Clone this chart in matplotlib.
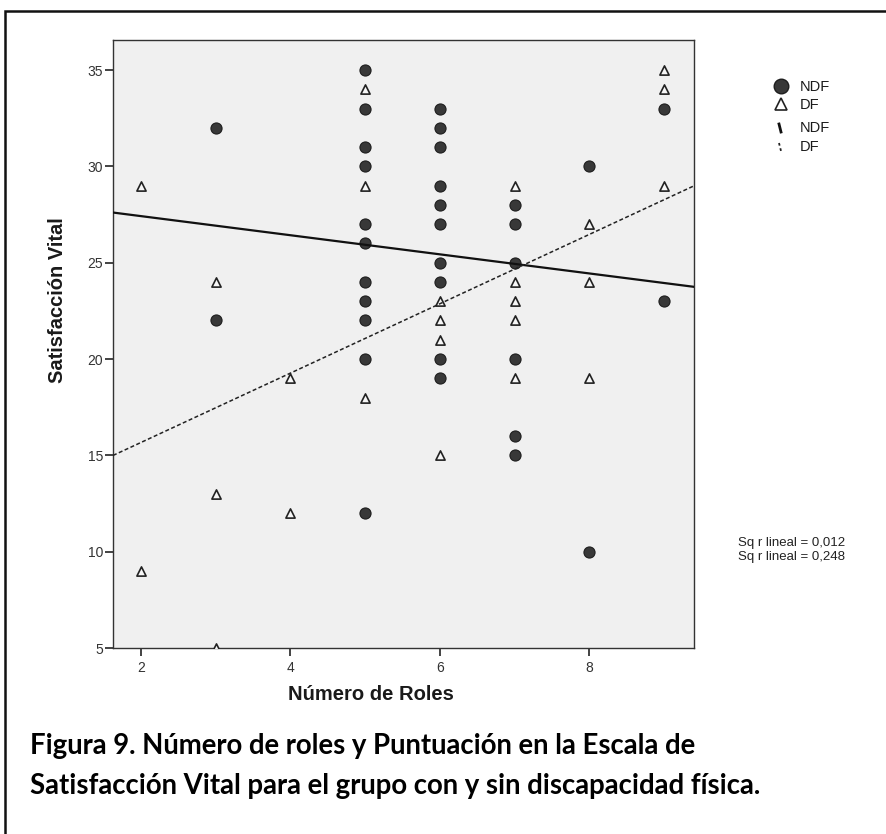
import matplotlib
matplotlib.use("Agg")
import matplotlib.pyplot as plt
from matplotlib.patches import Rectangle
from matplotlib.lines import Line2D

# data
ndf_roles = [3, 3, 5, 5, 5, 5, 5, 5, 5, 5, 5, 5, 5,
             6, 6, 6, 6, 6, 6, 6, 6, 6, 6,
             7, 7, 7, 7, 7, 7, 8, 8, 9, 9]
ndf_satis = [32, 22, 35, 33, 31, 30, 27, 26, 24, 23, 22, 20, 12,
             33, 32, 31, 29, 28, 27, 25, 24, 20, 19,
             28, 27, 25, 20, 16, 15, 30, 10, 33, 23]

df_roles = [2, 2, 3, 3, 3, 4, 4, 5, 5, 5,
            6, 6, 6, 6, 7, 7, 7, 7, 7, 8, 8, 8, 9, 9, 9]
df_satis = [29, 9, 24, 13, 5, 19, 12, 34, 29, 18,
            23, 22, 21, 15, 29, 24, 23, 22, 19, 27, 24, 19, 35, 34, 29]

# fit lines (intercept, slope) as drawn in the picture
fit_ndf = (28.41, -0.496)
fit_df = (12.07, 1.80)
r2_ndf = "0,012"
r2_df = "0,248"

W, H = 887, 834
fig = plt.figure(figsize=(W / 100, H / 100), dpi=100)
fig.patch.set_facecolor("white")

def fx(x):
    return x / W

def fy(y):
    return 1 - y / H

# outer frame (right and bottom edges lie outside the picture)
fig.patches.append(Rectangle((fx(5), fy(900)), fx(950), fy(11) - fy(900),
                             transform=fig.transFigure, fill=False,
                             edgecolor="#111111", linewidth=1.8))

ax = fig.add_axes([fx(113), fy(648), fx(694) - fx(113), fy(40) - fy(648)])
ax.set_facecolor("#f0f0f0")
xmin, xmax = 1.625, 9.4
ax.set_xlim(xmin, xmax)
ax.set_ylim(5, 36.56)

ax.scatter(ndf_roles, ndf_satis, s=64, marker="o", facecolor="#383838",
           edgecolor="#1e1e1e", linewidth=0.8, zorder=3, clip_on=False)
ax.scatter(df_roles, df_satis, s=44, marker="^", facecolor="#f7f7f7",
           edgecolor="#222222", linewidth=1.2, zorder=3)

xs = [xmin, xmax]
ax.plot(xs, [fit_ndf[0] + fit_ndf[1] * x for x in xs], color="#111111",
        linewidth=1.6, zorder=4)
ax.plot(xs, [fit_df[0] + fit_df[1] * x for x in xs], color="#222222",
        linewidth=1.1, linestyle=(0, (2.6, 1.6)), zorder=4)

ax.set_xticks([2, 4, 6, 8])
ax.set_yticks([5, 10, 15, 20, 25, 30, 35])
for s in ax.spines.values():
    s.set_color("#333333")
    s.set_linewidth(1.0)
ax.tick_params(axis="both", direction="out", length=6, width=1.2,
               color="#222222", labelsize=10, labelcolor="#333333")
ax.tick_params(axis="y", pad=1)
for lab in ax.get_xticklabels() + ax.get_yticklabels():
    lab.set_family("Liberation Sans")

fig.text(fx(371), fy(695), "Número de Roles", ha="center", va="center",
         fontsize=14.5, fontweight="bold", family="Liberation Sans",
         color="#1a1a1a")
fig.text(fx(58), fy(300), "Satisfacción Vital", ha="center", va="center",
         rotation=90, fontsize=14.5, fontweight="bold",
         family="Liberation Sans", color="#1a1a1a")

# legend
fig.add_artist(Line2D([fx(781)], [fy(86)], marker="o", markersize=10.5,
                      markerfacecolor="#383838", markeredgecolor="#1e1e1e",
                      linestyle="none", transform=fig.transFigure))
fig.add_artist(Line2D([fx(781)], [fy(104)], marker="^", markersize=8.5,
                      markerfacecolor="white", markeredgecolor="#222222",
                      markeredgewidth=1.2, linestyle="none",
                      transform=fig.transFigure))
fig.add_artist(Line2D([fx(779), fx(781)], [fy(124), fy(132)],
                      color="#111111", linewidth=2.0,
                      transform=fig.transFigure))
fig.add_artist(Line2D([fx(779), fx(781)], [fy(143), fy(151)],
                      color="#222222", linewidth=1.3, linestyle=(0, (1.5, 1.5)),
                      transform=fig.transFigure))
for y, t in zip([87, 105, 128, 147], ["NDF", "DF", "NDF", "DF"]):
    fig.text(fx(800), fy(y), t, ha="left", va="center", fontsize=10.5,
             family="Liberation Sans", color="#1a1a1a")

fig.text(fx(738), fy(543), "Sq r lineal = " + r2_ndf, ha="left",
         va="center", fontsize=9.5, family="Liberation Sans", color="#222222")
fig.text(fx(738), fy(557), "Sq r lineal = " + r2_df, ha="left",
         va="center", fontsize=9.5, family="Liberation Sans", color="#222222")

# caption
fig.text(fx(30), fy(746), "Figura 9. Número de roles y Puntuación en la Escala de",
         ha="left", va="center", fontsize=19.8, fontweight="bold",
         family="Lato", color="black")
fig.text(fx(30), fy(786), "Satisfacción Vital para el grupo con y sin discapacidad física.",
         ha="left", va="center", fontsize=19.8, fontweight="bold",
         family="Lato", color="black")

fig.savefig("out.png", dpi=100)
